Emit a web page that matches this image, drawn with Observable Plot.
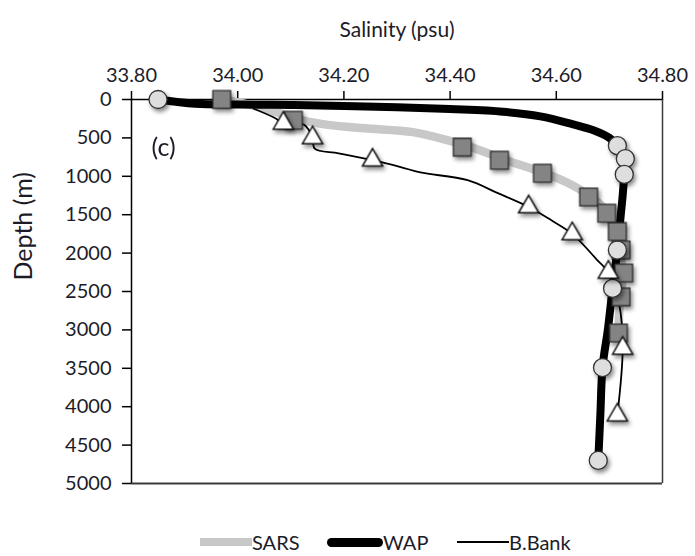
<!DOCTYPE html>
<html><head><meta charset="utf-8">
<script src="https://cdn.jsdelivr.net/npm/d3@7"></script>
<script src="https://cdn.jsdelivr.net/npm/@observablehq/plot@0.6"></script>
<style>
body{margin:0;background:#fff;}
#wrap{position:relative;width:695px;height:556px;font-family:Lato, sans-serif;color:#1c1c28;overflow:hidden;}
#legend{position:absolute;top:528px;left:0;width:695px;height:28px;}
.item{position:absolute;top:0;height:28px;display:flex;align-items:center;font-size:20px;line-height:28px;}
.sw{display:inline-block;}
</style></head><body><div id="wrap"></div>
<script>
// Axis ticks
const xTicks = [33.8, 34.0, 34.2, 34.4, 34.6, 34.8];
const yTicks = [0, 500, 1000, 1500, 2000, 2500, 3000, 3500, 4000, 4500, 5000];

// SARS (grey line + grey squares)
const sarsLineSal   = [33.97, 34.03, 34.08, 34.12, 34.17, 34.24, 34.33, 34.40, 34.46, 34.51, 34.57, 34.62, 34.66, 34.69, 34.71, 34.72, 34.725, 34.72, 34.717];
const sarsLineDepth = [0, 80, 180, 270, 330, 375, 425, 540, 670, 800, 940, 1080, 1240, 1420, 1700, 2000, 2300, 2600, 3050];
const sarsPtSal     = [33.97, 34.105, 34.423, 34.493, 34.574, 34.661, 34.695, 34.715, 34.722, 34.727, 34.722, 34.717];
const sarsPtDepth   = [0, 270, 620, 790, 960, 1270, 1480, 1720, 1960, 2260, 2570, 3040];

// WAP (thick black line + light circles)
const wapLineSal   = [33.85, 33.92, 34.00, 34.10, 34.20, 34.30, 34.40, 34.50, 34.57, 34.63, 34.67, 34.70, 34.715, 34.73, 34.728, 34.725, 34.721, 34.715, 34.706, 34.697, 34.687, 34.683, 34.679];
const wapLineDepth = [0, 55, 65, 72, 85, 100, 125, 160, 220, 320, 400, 500, 600, 770, 975, 1250, 1530, 1960, 2460, 3000, 3490, 4100, 4700];
const wapPtSal     = [33.85, 34.715, 34.73, 34.728, 34.715, 34.706, 34.687, 34.679];
const wapPtDepth   = [0, 600, 770, 975, 1960, 2460, 3490, 4700];

// B.Bank (thin black line + white triangles)
const bbLineSal   = [34.03, 34.07, 34.086, 34.125, 34.141, 34.145, 34.19, 34.254, 34.307, 34.344, 34.433, 34.49, 34.548, 34.59, 34.63, 34.677, 34.698, 34.718, 34.725, 34.715];
const bbLineDepth = [120, 240, 310, 330, 500, 640, 700, 790, 880, 950, 1050, 1220, 1400, 1570, 1750, 2090, 2250, 2650, 3240, 4110];
const bbPtSal     = [34.086, 34.141, 34.254, 34.548, 34.630, 34.698, 34.725, 34.715];
const bbPtDepth   = [310, 500, 790, 1400, 1750, 2250, 3240, 4110];

const seriesNames  = ["SARS", "WAP", "B.Bank"];
const seriesColors = ["#c8c8c8", "#000000", "#000000"];

const zip = (a, b) => a.map((s, i) => ({s, d: b[i]}));
const sarsLine = zip(sarsLineSal, sarsLineDepth), sarsPts = zip(sarsPtSal, sarsPtDepth);
const wapLine = zip(wapLineSal, wapLineDepth), wapPts = zip(wapPtSal, wapPtDepth);
const bbLine = zip(bbLineSal, bbLineDepth), bbPts = zip(bbPtSal, bbPtDepth);

const chart = Plot.plot({
  width: 695, height: 500,
  marginTop: 99, marginLeft: 131, marginRight: 33, marginBottom: 17,
  style: {fontFamily: "Lato, sans-serif", fontSize: "20px", color: "#1c1c28", background: "white", overflow: "visible"},
  x: {domain: [33.8, 34.8]},
  y: {domain: [0, 5000], reverse: true},
  marks: [
    Plot.axisX({anchor: "top", ticks: xTicks, tickSize: 9, tickPadding: 9, tickFormat: d3.format(".2f"), label: null, stroke: "#000", strokeWidth: 1.5}),
    Plot.axisY({anchor: "left", ticks: yTicks, tickSize: 9, tickPadding: 11, tickFormat: d => String(d), label: null, stroke: "#000", strokeWidth: 1.5}),
    Plot.ruleX([34.8], {stroke: "#3a3a3a", strokeWidth: 1.5}),
    Plot.ruleY([5000], {stroke: "#3a3a3a", strokeWidth: 2}),
    Plot.ruleY([0], {stroke: "#000", strokeWidth: 1.5}),
    Plot.ruleX([33.8], {stroke: "#000", strokeWidth: 1.5}),
    Plot.line(sarsLine, {x: "s", y: "d", stroke: seriesColors[0], strokeWidth: 8.5, curve: "catmull-rom"}),
    Plot.line(wapLine, {x: "s", y: "d", stroke: seriesColors[1], strokeWidth: 8, curve: "catmull-rom", strokeLinejoin: "round"}),
    Plot.line(bbLine, {x: "s", y: "d", stroke: seriesColors[2], strokeWidth: 1.8, curve: "catmull-rom"}),
    Plot.dot(sarsPts, {x: "s", y: "d", symbol: "square", r: 10, fill: "#848484", stroke: "#2e2e2e", strokeWidth: 1.3}),
    Plot.dot(wapPts, {x: "s", y: "d", symbol: "circle", r: 9, fill: "#dedede", stroke: "#333", strokeWidth: 1.3}),
    Plot.dot(bbPts, {x: "s", y: "d", symbol: "triangle", r: 7.5, fill: "#fff", stroke: "#111", strokeWidth: 1.5}),
    Plot.text(["(c)"], {text: d => d, frameAnchor: "top-left", dx: 20, dy: 48, textAnchor: "start", lineAnchor: "middle", fontSize: 25, fill: "#1c1c28"}),
    Plot.text(["Salinity (psu)"], {text: d => d, frameAnchor: "top", dy: -69, lineAnchor: "middle", fontSize: 21, fill: "#1c1c28"}),
    Plot.text(["Depth (m)"], {text: d => d, frameAnchor: "left", dx: -108, dy: -11, rotate: -90, lineAnchor: "middle", fontSize: 25, fill: "#1c1c28"})
  ]
});
chart.querySelectorAll('g[aria-label="dot"]').forEach(g => g.style.filter = "drop-shadow(2px 3px 2px rgba(0,0,0,0.45))");

const wrap = document.getElementById("wrap");
wrap.appendChild(chart);

// Legend
const legend = document.createElement("div");
legend.id = "legend";
const swatch = [
  {left: 200, w: 52, h: 8, r: 0},
  {left: 327, w: 56, h: 9, r: 5},
  {left: 457, w: 52, h: 2, r: 0}
];
seriesNames.forEach((name, i) => {
  const it = document.createElement("div");
  it.className = "item";
  it.style.left = swatch[i].left + "px";
  const sw = document.createElement("span");
  sw.className = "sw";
  sw.style.width = swatch[i].w + "px";
  sw.style.height = swatch[i].h + "px";
  sw.style.borderRadius = swatch[i].r + "px";
  sw.style.background = seriesColors[i];
  const tx = document.createElement("span");
  tx.textContent = name;
  it.appendChild(sw); it.appendChild(tx);
  legend.appendChild(it);
});
wrap.appendChild(legend);
</script></body></html>
